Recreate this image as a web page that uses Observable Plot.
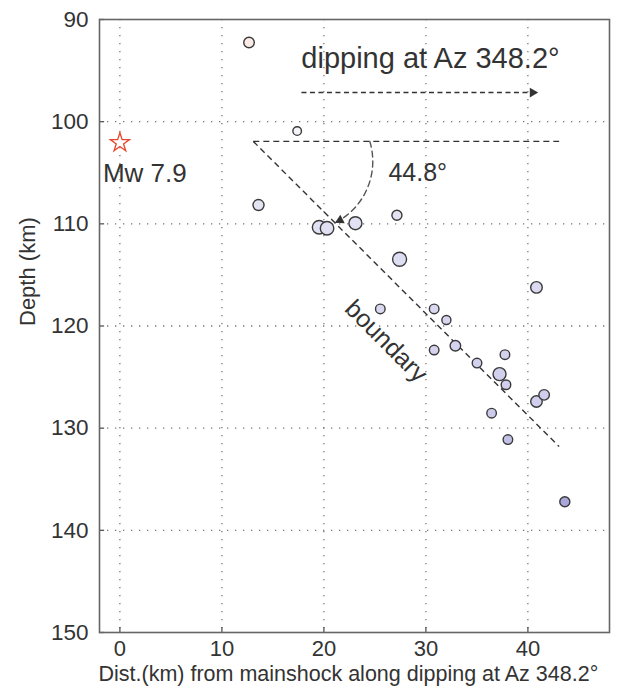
<!DOCTYPE html>
<html>
<head>
<meta charset="utf-8">
<script src="https://cdn.jsdelivr.net/npm/d3@7"></script>
<script src="https://cdn.jsdelivr.net/npm/@observablehq/plot@0.6"></script>
<style>
  html, body { margin: 0; padding: 0; background: #fff; }
  #chart svg { display: block; }
  #chart g[aria-label="direction-label"] text { letter-spacing: 1.7px; }
</style>
</head>
<body>
<div id="chart"></div>
<script>
// Aftershock hypocentres projected onto the dip section (Az 348.2°)
const dist  = [12.66, 17.38, 13.59, 19.53, 20.31, 23.09, 27.16, 27.42, 40.84, 25.53, 30.81, 32.01,
               32.89, 30.81, 35.01, 37.75, 37.22, 37.85, 41.59, 40.84, 36.44, 38.04, 43.62];
const depth = [92.25, 100.92, 108.16, 110.33, 110.43, 109.94, 109.16, 113.47, 116.22, 118.33, 118.33, 119.41,
               121.93, 122.35, 123.63, 122.81, 124.71, 125.75, 126.74, 127.39, 128.53, 131.12, 137.20];
const mag   = [4.4, 4.0, 4.5, 5.0, 5.0, 4.9, 4.3, 5.1, 4.6, 4.2, 4.2, 4.1,
               4.4, 4.2, 4.2, 4.2, 4.9, 4.2, 4.4, 4.6, 4.2, 4.2, 4.3];

// Mainshock
const mainDist = [0];
const mainDepth = [102.06];
const mainLabel = ["Mw 7.9"];

// Axis ticks
const xTicks = [0, 10, 20, 30, 40];
const yTicks = [90, 100, 110, 120, 130, 140, 150];
const xDomain = [-2, 48];
const yDomain = [90, 150];

// Slab boundary geometry: vertex, horizontal reference and dipping trace
const vertex = [13.08, 101.93];
const horizEndX = 43.06;
const dipEnd = [43.06, 131.80];
const dipAngle = 44.8;

// Dip-direction arrow
const dirArrowX = [17.8, 41.0];
const dirArrowY = 97.15;

// Angle arc between the horizontal and the boundary
const arcStart = [24.5, 101.93];
const arcEnd = [21.1, 109.9];

// Annotation labels
const dirLabel = {text: "dipping at Az 348.2°", x: 30.45, y: 93.8};
const angleLabel = {text: `${dipAngle}°`, x: 29.2, y: 105.0};
const boundaryLabel = {text: "boundary", x: 26.1, y: 121.5};

const events = dist.map((d, i) => ({dist: d, depth: depth[i], mag: mag[i]}));

const ink = "#333";
const font = "'Liberation Sans', Arial, Helvetica, sans-serif";
const dash = "6,4";

const chart = Plot.plot({
  width: 619,
  height: 691,
  marginLeft: 99,
  marginRight: 10,
  marginTop: 19,
  marginBottom: 59,
  style: {fontFamily: font, background: "#fff", color: ink, overflow: "visible"},
  x: {domain: xDomain, label: null},
  y: {domain: yDomain, reverse: true, label: null},
  r: {type: "linear", domain: [4.0, 5.1], range: [4.3, 7.0]},
  color: {
    type: "linear",
    domain: [92, 101, 109, 128, 137],
    range: ["#fbebe6", "#f5f3f7", "#e2e2f3", "#cfcdec", "#aba8dc"]
  },
  marks: [
    // dotted grid
    Plot.gridX(xTicks, {stroke: "#777", strokeOpacity: 1, strokeWidth: 1.3, strokeDasharray: "1.3,6.7"}),
    Plot.gridY(yTicks.slice(1, -1), {stroke: "#777", strokeOpacity: 1, strokeWidth: 1.3, strokeDasharray: "1.3,6.7"}),
    // inward ticks
    Plot.ruleX(xTicks, {y1: yDomain[1], y2: yDomain[1] - 0.5, stroke: "#555", strokeWidth: 1.3}),
    Plot.ruleY(yTicks, {x1: xDomain[0], x2: xDomain[0] + 0.5, stroke: "#555", strokeWidth: 1.3}),
    Plot.axisX(xTicks, {tickSize: 0, tickPadding: 8, fontSize: 22, label: null, fill: ink}),
    Plot.axisY(yTicks, {tickSize: 0, tickPadding: 11, fontSize: 22.5, label: null, fill: ink}),
    Plot.frame({stroke: "#666", strokeWidth: 1.6}),

    // horizontal reference and dipping boundary
    Plot.link([0], {x1: vertex[0], y1: vertex[1], x2: horizEndX, y2: vertex[1], stroke: ink, strokeWidth: 1.4, strokeDasharray: dash}),
    Plot.link([0], {x1: vertex[0], y1: vertex[1], x2: dipEnd[0], y2: dipEnd[1], stroke: ink, strokeWidth: 1.4, strokeDasharray: dash}),

    // dip-direction arrow
    Plot.link([0], {x1: dirArrowX[0], y1: dirArrowY, x2: dirArrowX[1], y2: dirArrowY, stroke: ink, strokeWidth: 1.4, strokeDasharray: "5,3.5"}),
    Plot.dot([0], {x: dirArrowX[1], y: dirArrowY, symbol: "triangle", r: 3.6, fill: ink, stroke: "none", rotate: 90, dx: -5.5}),

    // angle arc
    Plot.arrow([0], {x1: arcStart[0], y1: arcStart[1], x2: arcEnd[0], y2: arcEnd[1], bend: 40, headLength: 0, stroke: "#555", strokeWidth: 1.4, strokeDasharray: dash}),
    Plot.dot([0], {x: arcEnd[0], y: arcEnd[1], symbol: "triangle", r: 3.6, fill: ink, stroke: "none", rotate: 243, dx: 4.9, dy: -2.5}),

    // aftershocks
    Plot.dot(events, {x: "dist", y: "depth", r: "mag", fill: "depth", stroke: "#3a3a3a", strokeWidth: 1.4}),

    // mainshock
    Plot.dot(mainDist, {x: d => d, y: (d, i) => mainDepth[i], symbol: "star", r: 6, fill: "#fff", stroke: "#e8452c", strokeWidth: 1.3}),
    Plot.text(mainLabel, {x: (d, i) => mainDist[i], y: (d, i) => mainDepth[i], text: d => d, textAnchor: "start", dx: -17, dy: 31, fontSize: 26, fill: ink}),

    // annotation labels
    Plot.text([dirLabel], {x: "x", y: "y", text: "text", fontSize: 29, fill: ink, ariaLabel: "direction-label"}),
    Plot.text([angleLabel], {x: "x", y: "y", text: "text", fontSize: 25, fill: ink}),
    Plot.text([boundaryLabel], {x: "x", y: "y", text: "text", fontSize: 25, rotate: 45, fill: ink}),

    // axis titles
    Plot.text(["Depth (km)"], {frameAnchor: "left", dx: -72, rotate: -90, fontSize: 22, fill: ink}),
    Plot.text(["Dist.(km) from mainshock along dipping at Az 348.2°"], {frameAnchor: "bottom-left", textAnchor: "start", dx: -1, dy: 48.5, fontSize: 21.5, fill: ink})
  ]
});

document.getElementById("chart").appendChild(chart);
</script>
</body>
</html>
